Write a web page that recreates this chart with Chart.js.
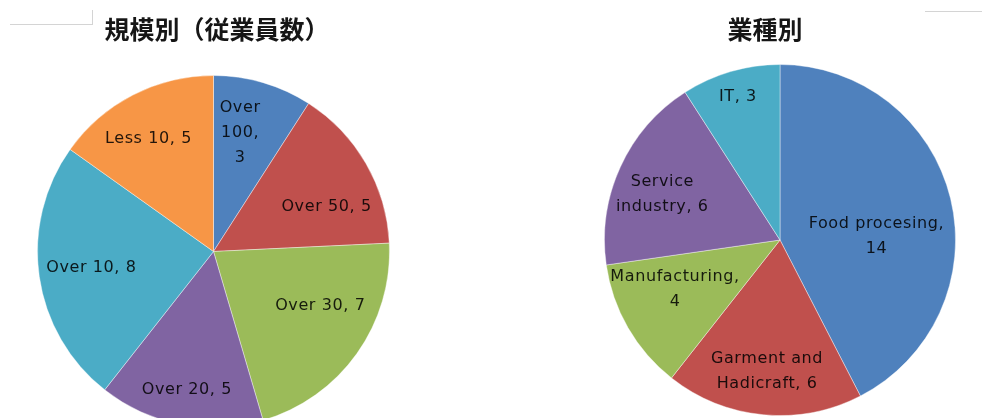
<!DOCTYPE html>
<html lang="ja">
<head>
<meta charset="utf-8">
<title>規模別・業種別</title>
<script src="https://cdn.jsdelivr.net/npm/chart.js@4.4.1/dist/chart.umd.min.js"></script>
<style>
    html, body { margin: 0; padding: 0; background: #fff; }
    #wrap { position: relative; width: 982px; height: 418px; overflow: hidden; background: #fff; }
    #wrap canvas { position: absolute; top: 0; }
    #sizeChart { left: 37px; }
    #industryChart { left: 604px; }
    .rule { position: absolute; background: #d4d4d4; }
</style>
</head>
<body>
<div id="wrap">
    <div class="rule" style="left:10px; top:24px; width:82px; height:1px;"></div>
    <div class="rule" style="left:92px; top:10px; width:1px; height:15px;"></div>
    <div class="rule" style="left:925px; top:11px; width:57px; height:1px;"></div>
    <canvas id="sizeChart" width="353" height="428"></canvas>
    <canvas id="industryChart" width="352" height="416"></canvas>
</div>
<script>
// Companies by size (number of employees)
const sizeCategories = ['Over 100', 'Over 50', 'Over 30', 'Over 20', 'Over 10', 'Less 10'];
const sizeValues = [3, 5, 7, 5, 8, 5];

// Companies by industry
const industryCategories = ['Food procesing', 'Garment and Hadicraft', 'Manufacturing', 'Service industry', 'IT'];
const industryValues = [14, 6, 4, 6, 3];

// Office-style palette
const sizeColors = ['#4F81BD', '#C0504D', '#9BBB59', '#8064A2', '#4BACC6', '#F79646'];
const industryColors = ['#4F81BD', '#C0504D', '#9BBB59', '#8064A2', '#4BACC6'];

// label placement: r = fraction of radius, da = angle shift (deg), wrap = max line width
const sizeLabelPlace = [
    { r: 0.69, da: -3.7, wrap: 50 },
    { r: 0.69, da: 8.6, wrap: 200 },
    { r: 0.68, da: -8.6, wrap: 200 },
    { r: 0.80, da: 0, wrap: 200 },
    { r: 0.70, da: 0.7, wrap: 200 },
    { r: 0.74, da: -2.7, wrap: 200 }
];
const industryLabelPlace = [
    { r: 0.55, da: 11.2, wrap: 150 },
    { r: 0.75, da: 0.2, wrap: 120 },
    { r: 0.66, da: 5, wrap: 138 },
    { r: 0.72, da: -3.2, wrap: 110 },
    { r: 0.85, da: 0, wrap: 200 }
];

function wrapText(ctx, text, maxWidth) {
    const words = text.split(' ');
    const lines = [];
    let line = '';
    words.forEach(function(w) {
        const test = line ? line + ' ' + w : w;
        if (line && ctx.measureText(test).width > maxWidth) {
            lines.push(line);
            line = w;
        } else {
            line = test;
        }
    });
    if (line) lines.push(line);
    return lines;
}

// Draws "category, value" inside each slice
const sliceLabels = {
    id: 'sliceLabels',
    afterDatasetsDraw(chart, args, opts) {
        const ctx = chart.ctx;
        const meta = chart.getDatasetMeta(0);
        const values = chart.data.datasets[0].data;
        ctx.save();
        ctx.font = opts.font;
        ctx.letterSpacing = opts.letterSpacing;
        ctx.fillStyle = opts.color;
        ctx.textAlign = 'center';
        ctx.textBaseline = 'middle';
        meta.data.forEach(function(arc, i) {
            const p = opts.place[i];
            const mid = (arc.startAngle + arc.endAngle) / 2 + p.da * Math.PI / 180;
            const r = arc.outerRadius * p.r;
            const x = arc.x + Math.cos(mid) * r;
            const y = arc.y + Math.sin(mid) * r;
            const lines = wrapText(ctx, chart.data.labels[i] + ', ' + values[i], p.wrap);
            lines.forEach(function(ln, k) {
                ctx.fillText(ln, x, y + (k - (lines.length - 1) / 2) * opts.lineHeight);
            });
        });
        ctx.restore();
    }
};

// Heading drawn above the pie
const panelTitle = {
    id: 'panelTitle',
    afterDraw(chart, args, opts) {
        const ctx = chart.ctx;
        ctx.save();
        ctx.font = 'bold ' + opts.size + 'px "Noto Sans CJK JP", sans-serif';
        ctx.fillStyle = '#161616';
        ctx.textAlign = 'center';
        ctx.textBaseline = 'middle';
        ctx.fillText(opts.text, opts.x, opts.y);
        ctx.restore();
    }
};

function makePie(id, categories, values, colors, place, title, padTop) {
    return new Chart(document.getElementById(id), {
        type: 'pie',
        data: {
            labels: categories,
            datasets: [{
                data: values,
                backgroundColor: colors,
                borderColor: 'rgba(255,255,255,0.4)',
                borderWidth: 1
            }]
        },
        options: {
            responsive: false,
            animation: false,
            layout: { padding: { top: padTop } },
            plugins: {
                legend: { display: false },
                tooltip: { enabled: false },
                sliceLabels: {
                    font: '16px "DejaVu Sans", sans-serif',
                    letterSpacing: '0.6px',
                    color: 'rgba(0,0,0,0.86)',
                    lineHeight: 25,
                    place: place
                },
                panelTitle: title
            }
        },
        plugins: [sliceLabels, panelTitle]
    });
}

makePie('sizeChart', sizeCategories, sizeValues, sizeColors, sizeLabelPlace,
    { text: '規模別（従業員数）', x: 180, y: 29, size: 25 }, 75);
makePie('industryChart', industryCategories, industryValues, industryColors, industryLabelPlace,
    { text: '業種別', x: 161, y: 29, size: 25 }, 64);
</script>
</body>
</html>
